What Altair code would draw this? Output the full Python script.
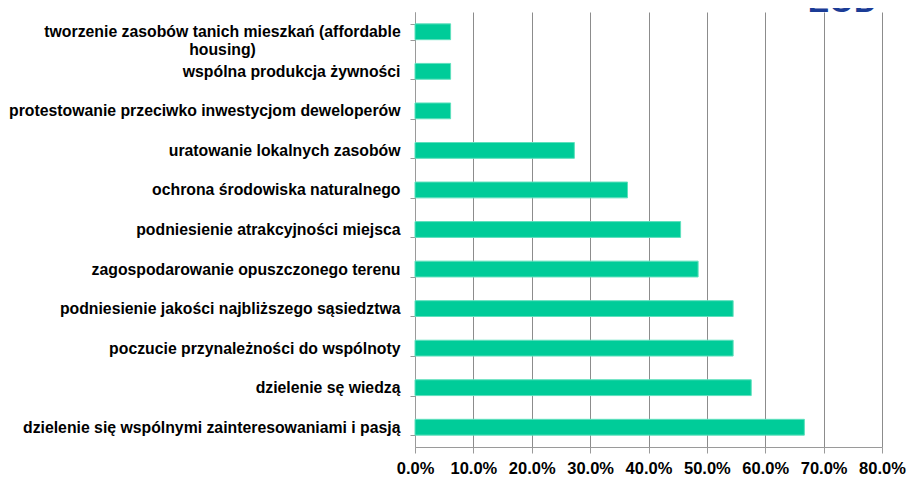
import altair as alt
import pandas as pd

categories = [
    "tworzenie zasobów tanich mieszkań (affordable\nhousing)",
    "wspólna produkcja żywności",
    "protestowanie przeciwko inwestycjom deweloperów",
    "uratowanie lokalnych zasobów ",
    "ochrona środowiska naturalnego",
    "podniesienie atrakcyjności miejsca",
    "zagospodarowanie opuszczonego terenu",
    "podniesienie jakości najbliższego sąsiedztwa",
    "poczucie przynależności do wspólnoty",
    "dzielenie sę wiedzą",
    "dzielenie się wspólnymi zainteresowaniami i pasją",
]
values = [0.061, 0.061, 0.061, 0.273, 0.364, 0.455, 0.485, 0.545, 0.545, 0.576, 0.667]
tick_values = [0.0, 0.1, 0.2, 0.3, 0.4, 0.5, 0.6, 0.7, 0.8]

df = pd.DataFrame({"cat": categories, "val": values})
logo = pd.DataFrame({"t": ["EOD"]})

FONT = "Liberation Sans"

is_wrapped = "isString(datum.value) && indexof(datum.value, '\\n') >= 0"
label_expr = (
    "isString(datum.value) ? (indexof(datum.value, '\\n') >= 0 ? "
    "split(datum.value, '\\n') : datum.value) : ''"
)

bars = (
    alt.Chart(df)
    .mark_bar(color="#00CC99", stroke="#5fe0bd", strokeWidth=1)
    .encode(
        x=alt.X(
            "val:Q",
            scale=alt.Scale(domain=[0, 0.8], nice=False),
            axis=alt.Axis(
                values=tick_values,
                format=".1%",
                title=None,
                grid=True,
                gridColor="#8c8c8c",
                domainColor="#9a9a9a",
                tickColor="#9a9a9a",
                tickSize=6,
                labelFont=FONT,
                labelFontWeight="bold",
                labelFontSize=16.5,
                labelColor="#000000",
                labelPadding=7,
                labelFlush=False,
            ),
        ),
        y=alt.Y(
            "cat:N",
            sort=None,
            scale=alt.Scale(paddingInner=0.6, paddingOuter=0.3),
            axis=alt.Axis(
                title=None,
                labelExpr=label_expr,
                labelFont=FONT,
                labelFontWeight="bold",
                labelFontSize=15.8,
                labelColor="#000000",
                labelLineHeight=18,
                labelAlign={"condition": {"test": is_wrapped, "value": "center"}, "value": "right"},
                labelPadding={"condition": {"test": is_wrapped, "value": 188}, "value": 10},
                labelLimit=420,
                tickBand="extent",
                tickSize=5,
                tickColor="#9a9a9a",
                domainColor="#9a9a9a",
                grid=False,
            ),
        ),
    )
)

logo_text = (
    alt.Chart(logo)
    .mark_text(
        font=FONT,
        fontSize=32,
        fontWeight="bold",
        color="#1b3c96",
        align="right",
        baseline="alphabetic",
    )
    .encode(text="t:N", x=alt.value(462), y=alt.value(0))
)

chart = (
    alt.layer(bars, logo_text)
    .properties(
        width=467,
        height=435,
        autosize=alt.AutoSizeParams(type="none"),
        padding={"left": 407, "top": 4, "right": 25, "bottom": 30},
    )
    .configure_view(stroke=None)
)

chart.save("out.html", embed_options={"renderer": "svg", "actions": False})
